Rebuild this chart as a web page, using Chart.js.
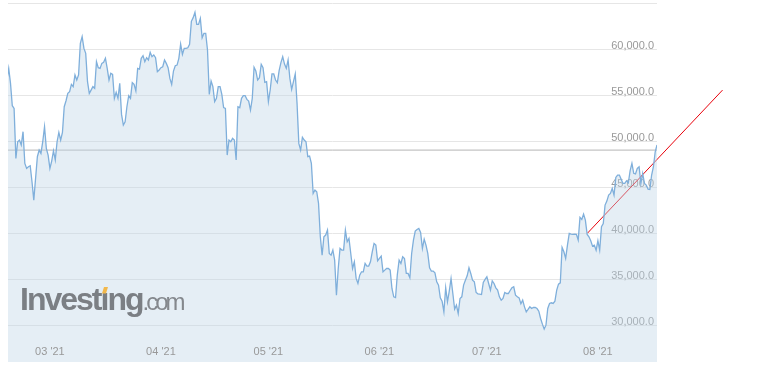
<!DOCTYPE html>
<html>
<head>
<meta charset="utf-8">
<script src="https://cdn.jsdelivr.net/npm/chart.js@4.4.1/dist/chart.umd.min.js"></script>
<style>
  html, body { margin: 0; padding: 0; background: #fff; }
  #wrap { width: 766px; height: 366px; }
</style>
</head>
<body>
<div id="wrap"><canvas id="btcChart" width="766" height="366"></canvas></div>
<script>
// half-day closes, first point is 12 days before 1 Mar 2021 (day 0)
const startDay = -12;
const stepDays = 0.5;
const prices = [
  56630, 57900, 56270, 53840, 53550, 48120, 49930, 50110, 49570, 51020,
  47570, 47030, 47210, 47320, 45580, 43590, 45950, 48300, 49020, 48660,
  49930, 51560, 49210, 48480, 47030, 47830, 48950, 47940, 49930, 50940,
  50110, 50940, 53730, 54380, 55180, 55360, 56160, 55910, 57180, 56630,
  57180, 60620, 61340, 60070, 59530, 56450, 55180, 55540, 55910, 55730,
  58620, 57970, 57900, 58440, 58550, 58990, 57900, 56630, 57360, 57250,
  54640, 55290, 54640, 56270, 52900, 51740, 52100, 53730, 54930, 54640,
  56340, 56160, 55440, 57900, 57830, 58990, 59280, 58620, 59060, 58810,
  59640, 59170, 59350, 59060, 57540, 57720, 57970, 58080, 58810, 58440,
  57970, 56810, 56160, 57610, 58190, 58260, 58990, 60540, 59420, 60070,
  60070, 60140, 60510, 63010, 63410, 63990, 62680, 62680, 63330, 61230,
  61700, 61700, 59890, 55070, 56520, 55910, 54280, 54640, 55910, 55910,
  55070, 53630, 53550, 48480, 50110, 49930, 50290, 50110, 47940, 53730,
  53630, 54640, 54930, 54930, 54530, 54350, 53370, 54640, 58010, 57610,
  56630, 56890, 58340, 57970, 56380, 56450, 54280, 55550, 57290, 57290,
  56630, 56340, 57650, 58520, 59170, 58370, 57900, 58810, 56810, 55620,
  56450, 57290, 54100, 49750, 49020, 50400, 50110, 49930, 48300, 48370,
  47580, 44310, 44680, 44500, 43230, 39600, 37610, 39600, 39790, 40330,
  37790, 37610, 38160, 37070, 33260, 36160, 38340, 38160, 38160, 40330,
  39060, 39420, 37790, 36160, 36890, 35080, 34530, 35440, 35800, 35800,
  36710, 36420, 36420, 36890, 37970, 38880, 38700, 37000, 37250, 37500,
  35800, 35980, 36160, 36160, 35980, 33990, 33080, 33000, 35500, 37070,
  36700, 37430, 37250, 35620, 35620, 35150, 37790, 39240, 40220, 40400,
  40510, 40070, 38330, 39350, 38700, 37790, 36230, 35870, 35870, 35690,
  34710, 34350, 32970, 32610, 31450, 34060, 32540, 33700, 35070, 33440,
  31740, 32180, 31270, 32900, 33080, 34350, 34890, 35360, 36230, 35620,
  34890, 34710, 33550, 33410, 33370, 33330, 34640, 34970, 35260, 34530,
  33810, 34820, 34530, 34060, 33810, 33080, 32720, 32900, 33550, 33440,
  33440, 33770, 34060, 34170, 33260, 33080, 32970, 32320, 32720, 31990,
  31450, 31710, 32000, 31810, 31920, 31920, 31810, 31520, 30730, 30110,
  29570, 30000, 31810, 32360, 32430, 32360, 32610, 33810, 34460, 34600,
  38440, 37970, 37250, 38700, 39970, 39890, 39860, 39890, 39860, 39240,
  41710, 41490, 42070, 41420, 39860, 39600, 39170, 38590, 38700, 38150,
  39170, 38150, 40690, 41050, 43050, 43480, 44130, 44310, 44860, 44130,
  46050, 46310, 46310, 45840, 45400, 45400, 45690, 45470, 46780, 47570,
  46490, 46420, 47030, 47210, 45400, 46490, 45400, 45220, 44780, 44750,
  46310, 47210, 48840, 49570
];

const monthDays = [0, 31, 61, 92, 122, 153];
const monthLabels = ["03 '21", "04 '21", "05 '21", "06 '21", "07 '21", "08 '21"];
const yTicks = [30000, 35000, 40000, 45000, 50000, 55000, 60000, 65000];
const lastPrice = 49020;
const trendDays = [150.1, 187.8];
const trendValues = [40000, 55540];

const xMin = -11.7, xMax = 169.5;
const fontFamily = "'Liberation Sans', Arial, sans-serif";

const pricePoints = prices.map((v, i) => ({ x: startDay + i * stepDays, y: v }));

// month names sit inside the plot, over the fill
const monthLabelsPlugin = {
  id: 'monthLabels',
  afterDatasetsDraw(chart) {
    const ctx = chart.ctx;
    const x = chart.scales.x;
    ctx.save();
    ctx.font = '11px ' + fontFamily;
    ctx.fillStyle = '#999';
    ctx.textAlign = 'center';
    ctx.textBaseline = 'middle';
    monthDays.forEach((d, i) => {
      ctx.fillText(monthLabels[i], x.getPixelForValue(d), 352);
    });
    ctx.restore();
  }
};

const watermarkPlugin = {
  id: 'watermark',
  afterDatasetsDraw(chart) {
    const ctx = chart.ctx;
    ctx.save();
    ctx.textBaseline = 'alphabetic';
    ctx.textAlign = 'left';
    ctx.fillStyle = '#7b7f84';
    ctx.font = 'bold 32px ' + fontFamily;
    ctx.letterSpacing = '-2px';
    const head = 'Invest';
    ctx.fillText(head + '\u0131ng', 20, 310);
    const iLeft = 20 + ctx.measureText(head).width;
    const mainW = ctx.measureText(head + '\u0131ng').width;
    ctx.font = '24px ' + fontFamily;
    ctx.letterSpacing = '-3px';
    ctx.fillStyle = '#84888d';
    ctx.fillText('.com', 20 + mainW, 310);
    // orange dot of the i
    ctx.fillStyle = '#f2b84b';
    ctx.beginPath();
    ctx.moveTo(iLeft + 1.5, 293.5);
    ctx.lineTo(iLeft + 3.5, 287);
    ctx.lineTo(iLeft + 7.5, 287);
    ctx.lineTo(iLeft + 5.5, 293.5);
    ctx.closePath();
    ctx.fill();
    ctx.restore();
  }
};

new Chart(document.getElementById('btcChart'), {
  type: 'line',
  data: {
    datasets: [
      {
        data: pricePoints,
        borderColor: '#7fafdb',
        borderWidth: 1.3,
        backgroundColor: 'rgba(190, 213, 230, 0.4)',
        fill: 'start',
        pointRadius: 0,
        tension: 0
      },
      {
        data: [{ x: xMin, y: lastPrice }, { x: xMax, y: lastPrice }],
        borderColor: '#b5b5b5',
        borderWidth: 1,
        pointRadius: 0,
        fill: false
      },
      {
        data: trendDays.map((d, i) => ({ x: d, y: trendValues[i] })),
        borderColor: '#e8000b',
        borderWidth: 1,
        pointRadius: 0,
        fill: false,
        clip: false
      }
    ]
  },
  options: {
    responsive: false,
    animation: false,
    devicePixelRatio: 1,
    layout: { padding: { left: 8, right: 109, top: 3, bottom: 4 } },
    plugins: {
      legend: { display: false },
      tooltip: { enabled: false }
    },
    scales: {
      x: { type: 'linear', display: false, min: xMin, max: xMax },
      y: {
        position: 'right',
        min: 26000,
        max: 65000,
        afterBuildTicks: s => { s.ticks = yTicks.map(v => ({ value: v })); },
        // labels are drawn inside the plot, so the axis takes no room
        afterFit: s => {
          s.width = 0;
          s.paddingTop = 0;
          s.paddingBottom = 0;
        },
        grid: { color: '#e6e6e6', drawTicks: false, lineWidth: 1 },
        border: { display: false },
        ticks: {
          mirror: true,
          padding: -3,
          labelOffset: -3.5,
          color: '#999',
          font: { family: fontFamily, size: 11 },
          callback: v => v >= 65000 ? '' : v.toLocaleString('en-US', { minimumFractionDigits: 1 })
        }
      }
    }
  },
  plugins: [monthLabelsPlugin, watermarkPlugin]
});
</script>
</body>
</html>
